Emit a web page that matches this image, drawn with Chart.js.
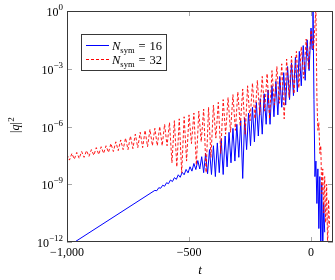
<!DOCTYPE html>
<html lang="en">
<head>
<meta charset="UTF-8">
<title>|q|^2 against t</title>
<style>
  body { margin: 0; background: #fff; }
  #wrap { width: 335px; height: 280px; }
</style>
</head>
<body>
<div id="wrap"><canvas id="chart" width="335" height="280"></canvas></div>
<script src="https://cdn.jsdelivr.net/npm/chart.js@4.4.3/dist/chart.umd.min.js"></script>
<script>
// N_sym = 16 (blue, solid)
const tSym16 = [
  -1000, -640, -632, -624, -616, -608, -600, -592, -584, -576, -568,
  -560, -552, -544, -536, -528, -520, -512, -504, -496, -488,
  -480, -472, -464, -456, -448, -440, -432, -424, -416, -408,
  -400, -392, -384, -376, -368, -360, -352, -344, -336, -328,
  -320, -312, -304, -296, -288, -280, -272, -264, -256, -248,
  -240, -232, -224, -216, -208, -200, -192, -184, -176, -168,
  -160, -152, -144, -136, -128, -120, -112, -104, -96, -88,
  -80, -72, -64, -56, -48, -40, -32, -24, -16, -8,
  0, 4, 8, 12, 16, 20, 24, 28, 32, 36, 40, 44, 48, 52, 56
];
const qSym16 = [
  5.5e-13, 4.8e-10, 4.6e-10, 6.6e-10, 6.2e-10, 8.9e-10, 7.9e-10, 1.2e-9, 1.07e-9, 1.66e-9, 1.38e-9,
  2.2e-9, 1.8e-9, 3.1e-9, 2.3e-9, 4.2e-9, 3.1e-9, 5.9e-9, 3.9e-9, 8.1e-9, 4.8e-9,
  1.2e-8, 5.8e-9, 1.7e-8, 6.2e-9, 2.7e-8, 4e-9, 4e-8, 3.5e-9, 6.3e-8, 3.2e-9,
  1e-7, 2.5e-9, 1.4e-7, 4e-9, 2.2e-7, 3.2e-9, 3.2e-7, 8e-9, 5e-7, 1.3e-8,
  8e-7, 1.6e-8, 1.3e-6, 2.5e-8, 2e-6, 2e-9, 2.8e-6, 6.3e-8, 5e-6, 1e-7,
  1e-5, 1.6e-7, 1.8e-5, 3.2e-7, 2.8e-5, 4e-7, 5e-5, 1.3e-6, 8e-5, 1.3e-6,
  1.3e-4, 3.2e-6, 2.2e-4, 4e-6, 4e-4, 1e-5, 6.3e-4, 1.3e-5, 1.3e-3, 2.5e-5,
  2e-3, 4e-5, 4e-3, 6.3e-5, 8e-3, 1.3e-4, 1.6e-2, 2.5e-4, 3.2e-2, 8e-4,
  0.13, 1e-2, 1.6, 2.5e-5, 2.5e-9, 1.6e-8, 1e-10, 6.3e-9, 5e-12, 2.5e-9, 3.2e-13, 1e-9, 3.2e-13, 1e-10, 3.2e-12
];

// N_sym = 32 (red, dashed)
const tSym32 = [
  -1000, -990, -980, -970, -960, -950, -940, -930, -920, -910,
  -900, -890, -880, -870, -860, -850, -840, -830, -820, -810,
  -800, -790, -780, -770, -760, -750, -740, -730, -720, -710,
  -700, -690, -680, -670, -660, -650, -640, -630, -620, -610,
  -600, -590, -580, -570, -560, -550, -540, -530, -520, -510,
  -500, -490, -480, -470, -460, -450, -440, -430, -420, -410,
  -400, -390, -380, -370, -360, -350, -340, -330, -320, -310,
  -300, -290, -280, -270, -260, -250, -240, -230, -220, -210,
  -200, -190, -180, -170, -160, -150, -140, -130, -120, -110,
  -100, -90, -80, -70, -60, -50, -40, -30, -20, -10,
  0, 10, 20, 24, 28, 32, 36, 40, 44, 48, 52, 56, 60, 64, 68, 72, 76
];
const qSym32 = [
  3.5e-8, 1.8e-8, 4e-8, 2e-8, 4.5e-8, 2.2e-8, 5e-8, 2.5e-8, 5.6e-8, 2.8e-8,
  6.3e-8, 3.2e-8, 8e-8, 3.5e-8, 8.9e-8, 4e-8, 1e-7, 4.5e-8, 1.3e-7, 5e-8,
  1.6e-7, 5.6e-8, 2e-7, 6.3e-8, 2.5e-7, 6.3e-8, 3.2e-7, 7.1e-8, 4e-7, 8e-8,
  5e-7, 8e-8, 6.3e-7, 8.9e-8, 7.1e-7, 1e-7, 8e-7, 1e-7, 1e-6, 1e-7,
  1.3e-6, 1e-7, 1.6e-6, 1.3e-8, 2e-6, 8e-9, 2.5e-6, 4e-9, 3.2e-6, 1.6e-8,
  4e-6, 1.3e-7, 5e-6, 1e-8, 6.3e-6, 1.6e-7, 8e-6, 4e-9, 1e-5, 2.5e-8,
  1.3e-5, 2.5e-7, 1.8e-5, 4e-8, 2.5e-5, 4e-7, 3.2e-5, 5e-7, 4.5e-5, 6.3e-7,
  6.3e-5, 1e-6, 8.9e-5, 4e-7, 1.3e-4, 2e-6, 1.8e-4, 2.5e-6, 2.5e-4, 4e-6,
  4e-4, 6.3e-6, 5.6e-4, 2.5e-6, 8e-4, 1.3e-5, 1.3e-3, 1.6e-5, 1.8e-3, 2.5e-6,
  3.2e-3, 3.2e-5, 4.5e-3, 5e-5, 8e-3, 1e-4, 1.4e-2, 3.2e-4, 3.5e-2, 1e-3,
  0.1, 1e-2, 1.4, 3.2e-5, 6.3e-7, 1.6e-6, 4e-8, 1e-7, 3.2e-10, 6.3e-9, 3.2e-11, 2.5e-9, 1e-11, 1e-9, 5e-13, 1.6e-10, 6.3e-12
];

const seriesNames = ['16', '32'];
const seriesColors = ['#0000ff', '#ff0000'];
const xTicks = [-1000, -500, 0];
const xTickLabels = ['\u22121,000', '\u2212500', '0'];
const yTicks = [1e-12, 1e-9, 1e-6, 1e-3, 1];
const yTickExps = ['\u221212', '\u22129', '\u22126', '\u22123', '0'];

const SERIF = '"Liberation Serif", "DejaVu Serif", serif';

function toPoints(ts, qs) {
  return ts.map((t, i) => ({ x: t, y: qs[i] }));
}

// frame, inward ticks, y labels with exponents, axis titles and the boxed legend
const decor = {
  id: 'decor',
  afterDatasetsDraw(chart) {
    const { ctx, chartArea: a, scales: { x, y } } = chart;
    ctx.save();

    ctx.strokeStyle = '#a8a8a8';
    ctx.lineWidth = 1;
    ctx.beginPath();
    xTicks.forEach(v => {
      const px = Math.round(x.getPixelForValue(v)) + 0.5;
      ctx.moveTo(px, a.bottom); ctx.lineTo(px, a.bottom - 5);
      ctx.moveTo(px, a.top); ctx.lineTo(px, a.top + 5);
    });
    yTicks.forEach(v => {
      const py = Math.round(y.getPixelForValue(v)) + 0.5;
      ctx.moveTo(a.left, py); ctx.lineTo(a.left + 5, py);
      ctx.moveTo(a.right, py); ctx.lineTo(a.right - 5, py);
    });
    ctx.stroke();

    ctx.strokeStyle = '#383838';
    ctx.strokeRect(a.left + 0.5, a.top + 0.5, a.right - a.left - 1, a.bottom - a.top - 1);

    // y tick labels: 10 with a raised exponent
    ctx.fillStyle = '#000';
    ctx.textAlign = 'left';
    ctx.textBaseline = 'alphabetic';
    yTicks.forEach((v, i) => {
      const py = y.getPixelForValue(v);
      ctx.font = '9px ' + SERIF;
      const ew = ctx.measureText(yTickExps[i]).width;
      ctx.font = '12px ' + SERIF;
      const bw = ctx.measureText('10').width;
      const right = a.left - 4;
      ctx.fillText('10', right - ew - bw, py + 5);
      ctx.font = '9px ' + SERIF;
      ctx.fillText(yTickExps[i], right - ew, py - 1);
    });

    // y title |q|^2
    ctx.save();
    ctx.translate(19, 123);
    ctx.rotate(-Math.PI / 2);
    let cx = -10;
    ctx.font = '12px ' + SERIF;
    ctx.fillText('|', cx, 0); cx += ctx.measureText('|').width;
    ctx.font = 'italic 12px ' + SERIF;
    ctx.fillText('q', cx, 0); cx += ctx.measureText('q').width;
    ctx.font = '12px ' + SERIF;
    ctx.fillText('|', cx, 0); cx += ctx.measureText('|').width;
    ctx.font = '9px ' + SERIF;
    ctx.fillText('2', cx + 0.5, -5);
    ctx.restore();

    // x title t
    ctx.font = 'italic 13px ' + SERIF;
    ctx.textAlign = 'center';
    ctx.fillText('t', (a.left + a.right) / 2, 274);
    ctx.textAlign = 'left';

    // legend box
    const lx = 81, ly = 34, lw = 85, lh = 36;
    ctx.fillStyle = '#fff';
    ctx.fillRect(lx, ly, lw, lh);
    ctx.strokeStyle = '#383838';
    ctx.lineWidth = 1;
    ctx.strokeRect(lx + 0.5, ly + 0.5, lw, lh);
    chart.data.datasets.forEach((ds, i) => {
      const yy = ly + 11.5 + i * 14;
      ctx.strokeStyle = seriesColors[i];
      ctx.lineWidth = 1;
      ctx.setLineDash(ds.borderDash || []);
      ctx.beginPath();
      ctx.moveTo(lx + 5, yy); ctx.lineTo(lx + 28, yy);
      ctx.stroke();
      ctx.setLineDash([]);
      ctx.fillStyle = '#000';
      let tx = lx + 31;
      ctx.font = 'italic 12.5px ' + SERIF;
      ctx.fillText('N', tx, yy + 4); tx += ctx.measureText('N').width;
      ctx.font = '8.5px ' + SERIF;
      ctx.fillText('sym', tx, yy + 7); tx += ctx.measureText('sym').width + 4;
      ctx.font = '12.5px ' + SERIF;
      ctx.fillText('=', tx, yy + 4); tx += ctx.measureText('=').width + 4;
      ctx.fillText(seriesNames[i], tx, yy + 4);
    });

    ctx.restore();
  }
};

const chart = new Chart(document.getElementById('chart'), {
  type: 'line',
  data: {
    datasets: [
      {
        label: 'N_sym = 16',
        data: toPoints(tSym16, qSym16),
        borderColor: seriesColors[0],
        borderWidth: 1,
        pointRadius: 0,
        tension: 0,
        order: 1
      },
      {
        label: 'N_sym = 32',
        data: toPoints(tSym32, qSym32),
        borderColor: seriesColors[1],
        borderWidth: 0.9,
        borderDash: [3, 2],
        pointRadius: 0,
        tension: 0,
        order: 0
      }
    ]
  },
  options: {
    responsive: false,
    animation: false,
    layout: { padding: { top: 11, right: 2, left: 0, bottom: 0 } },
    scales: {
      x: {
        type: 'linear',
        min: -1000,
        max: 90,
        afterBuildTicks: s => { s.ticks = xTicks.map(v => ({ value: v })); },
        afterFit: s => { s.height = 38; },
        grid: { display: false, drawTicks: false },
        border: { display: false },
        ticks: {
          padding: 4,
          maxRotation: 0,
          color: '#000',
          font: { family: SERIF, size: 12 },
          callback: v => xTickLabels[xTicks.indexOf(v)]
        }
      },
      y: {
        type: 'logarithmic',
        min: 1e-12,
        max: 1,
        afterFit: s => { s.width = 67; },
        grid: { display: false, drawTicks: false },
        border: { display: false },
        ticks: { display: false }
      }
    },
    plugins: {
      legend: { display: false },
      tooltip: { enabled: false }
    }
  },
  plugins: [decor]
});
</script>
</body>
</html>
